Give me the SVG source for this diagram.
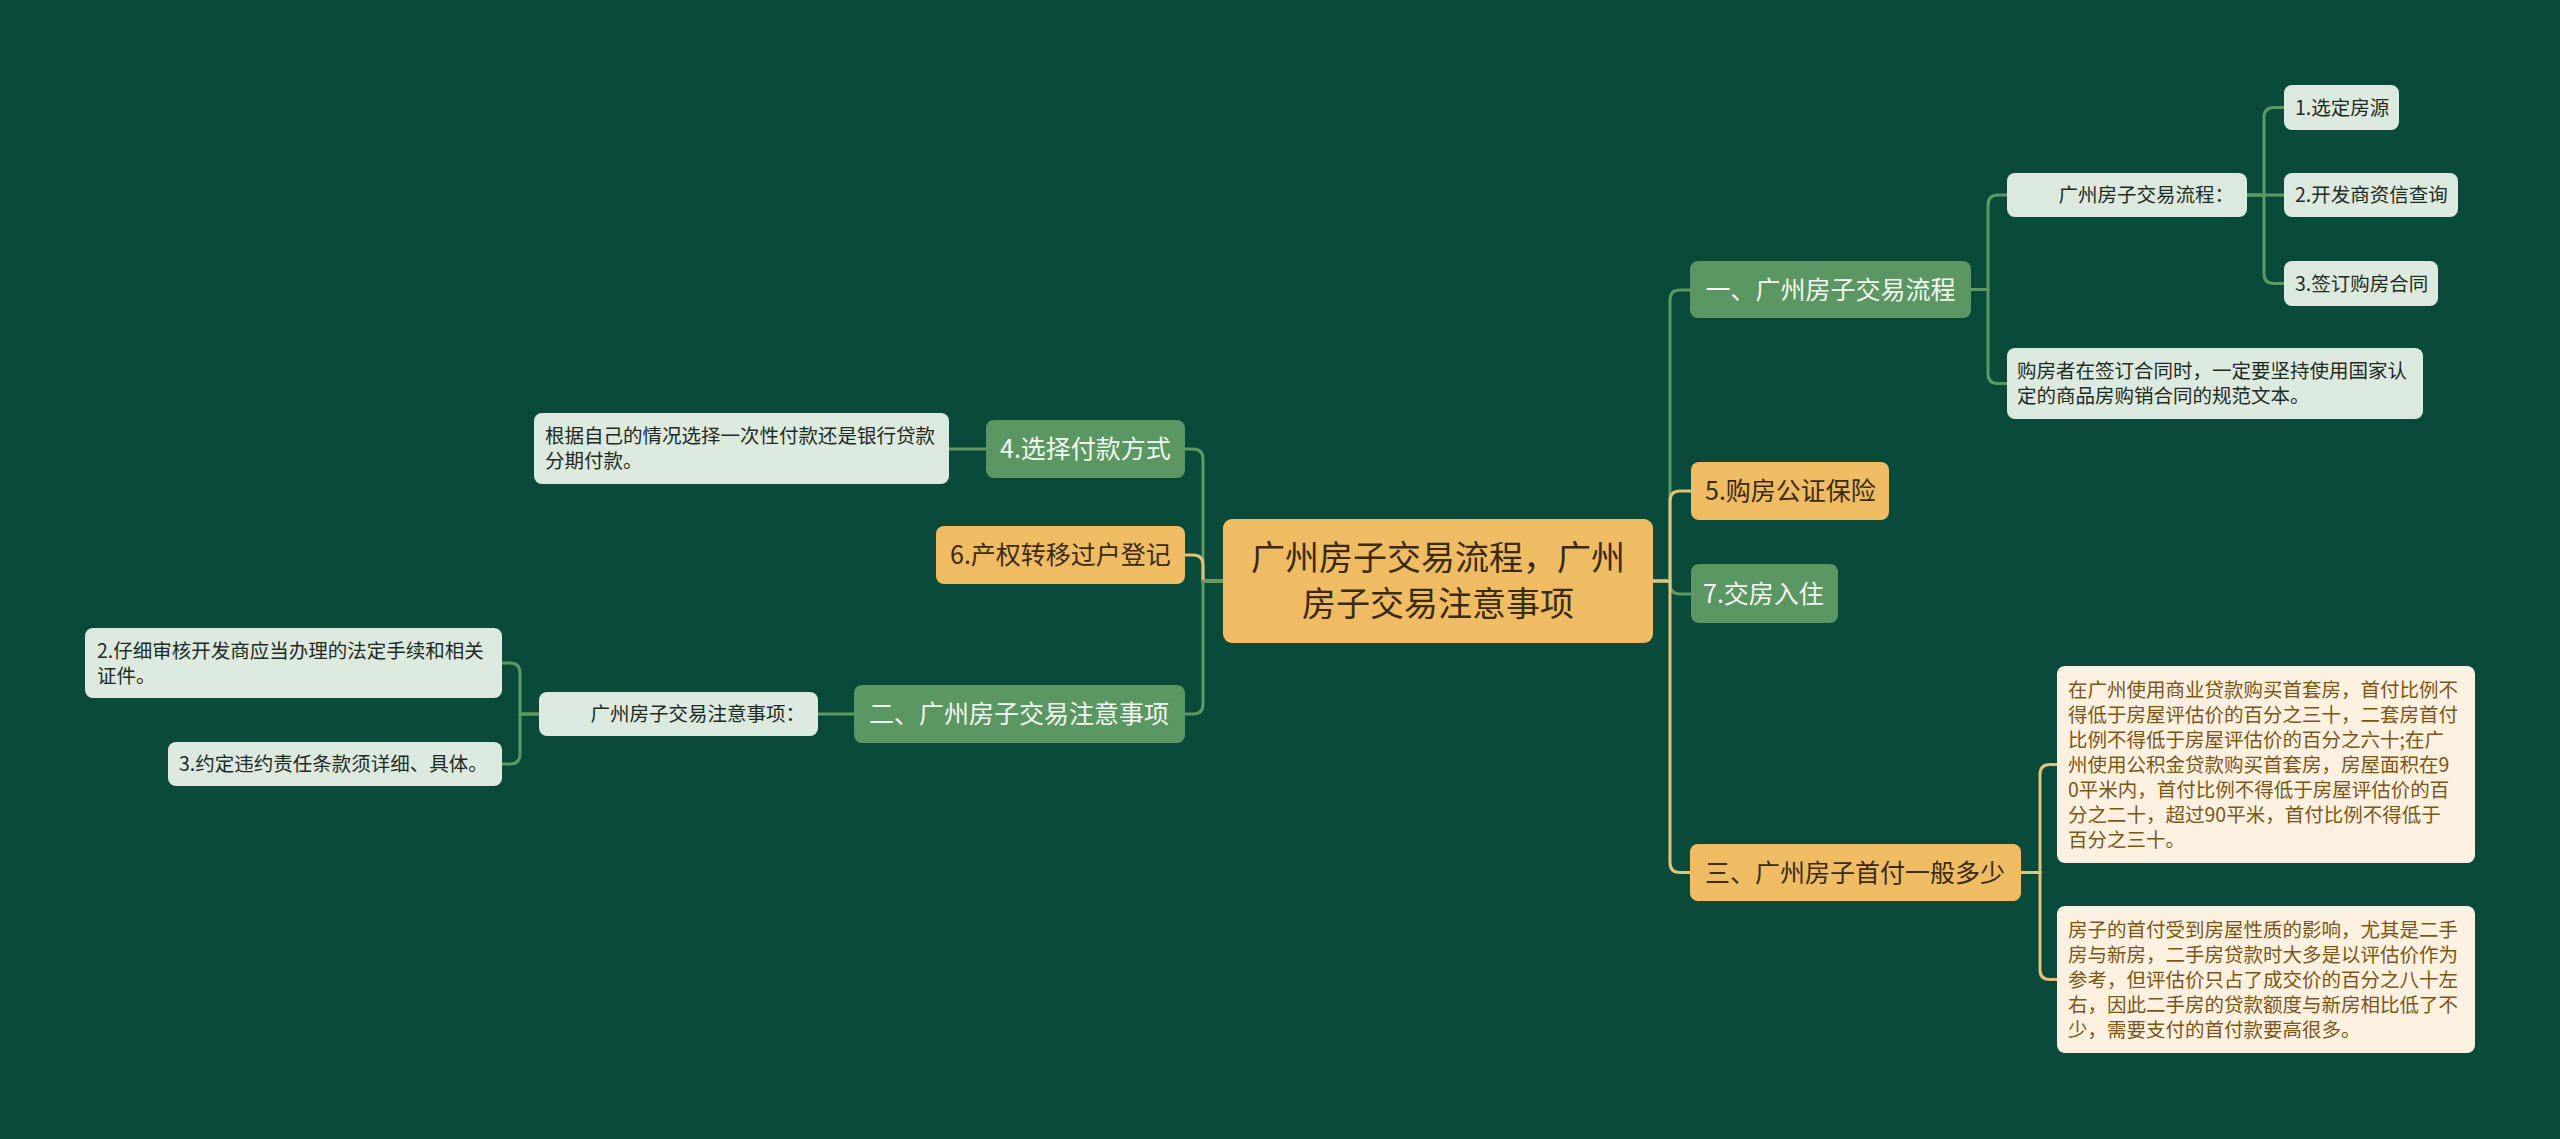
<svg xmlns="http://www.w3.org/2000/svg" width="2560" height="1139" viewBox="0 0 2560 1139">
<style>
text{font-family:"Noto Sans CJK SC","Noto Sans",sans-serif}
.g rect{fill:#5b9762}
.g text{fill:#f4f8f2;font-size:25px}
.y rect{fill:#efbc64}
.y text{fill:#3a2a12;font-size:25px}
.l rect{fill:#dce9de}
.l text{fill:#1e2b23;font-size:19.5px}
.c rect{fill:#fcf1e1}
.c text{fill:#7b5615;font-size:19.5px}
.lg{fill:none;stroke:#5d9a63;stroke-width:3}
.ly{fill:none;stroke:#e3c27b;stroke-width:3}
</style>
<rect x="0" y="0" width="2560" height="1139" fill="#094a3b"/>
<g id="connectors">
<path class="lg" d="M1653,581 H1670 V300 Q1670,290 1680,290 H1690"/>
<path class="ly" d="M1653,581 H1670 V501 Q1670,491 1680,491 H1691"/>
<path class="lg" d="M1653,581 H1670 V584 Q1670,594 1680,594 H1691"/>
<path class="ly" d="M1653,581 H1670 V862.5 Q1670,872.5 1680,872.5 H1690"/>
<path class="lg" d="M1971,289.5 H1988 V205 Q1988,195 1998,195 H2007"/>
<path class="lg" d="M1971,289.5 H1988 V373.5 Q1988,383.5 1998,383.5 H2007"/>
<path class="lg" d="M2247,195 H2264 V117.5 Q2264,107.5 2274,107.5 H2284"/>
<path class="lg" d="M2247,195 H2284"/>
<path class="lg" d="M2247,195 H2264 V273.5 Q2264,283.5 2274,283.5 H2284"/>
<path class="ly" d="M2021,872.5 H2040 V774.5 Q2040,764.5 2050,764.5 H2057"/>
<path class="ly" d="M2021,872.5 H2040 V969.5 Q2040,979.5 2050,979.5 H2057"/>
<path class="lg" d="M1223,581 H1203 V459 Q1203,449 1193,449 H1185"/>
<path class="ly" d="M1223,581 H1203 V565 Q1203,555 1193,555 H1185"/>
<path class="lg" d="M1223,581 H1203 V704 Q1203,714 1193,714 H1185"/>
<path class="lg" d="M986,449 H949"/>
<path class="lg" d="M854,714 H818"/>
<path class="lg" d="M539,714 H520 V673 Q520,663 510,663 H502"/>
<path class="lg" d="M539,714 H520 V754 Q520,764 510,764 H502"/>
</g>
<g id="center">
<rect x="1223" y="519" width="430" height="124" rx="9" fill="#efbc64"/>
<text x="1438" y="570" font-size="34" fill="#3a2a12" text-anchor="middle">广州房子交易流程，广州</text>
<text x="1438" y="616" font-size="34" fill="#3a2a12" text-anchor="middle">房子交易注意事项</text>
</g>
<g id="n1" class="g">
<rect x="1690" y="261" width="281" height="57" rx="8"/>
<text x="1830.5" y="298.5" text-anchor="middle">一、广州房子交易流程</text>
</g>
<g id="n1a" class="l">
<rect x="2007" y="173" width="240" height="44" rx="8"/>
<text x="2234" y="202" text-anchor="end">广州房子交易流程：</text>
</g>
<g id="n1a1" class="l">
<rect x="2284" y="85" width="115" height="45" rx="8"/>
<text x="2295" y="114.5">1.选定房源</text>
</g>
<g id="n1a2" class="l">
<rect x="2284" y="173" width="174" height="44" rx="8"/>
<text x="2295" y="202">2.开发商资信查询</text>
</g>
<g id="n1a3" class="l">
<rect x="2284" y="261" width="154" height="45" rx="8"/>
<text x="2295" y="290.5">3.签订购房合同</text>
</g>
<g id="n1b" class="l">
<rect x="2007" y="348" width="416" height="71" rx="8"/>
<text x="2017" y="378">购房者在签订合同时，一定要坚持使用国家认</text>
<text x="2017" y="403">定的商品房购销合同的规范文本。</text>
</g>
<g id="n5" class="y">
<rect x="1691" y="462" width="198" height="58" rx="8"/>
<text x="1705" y="500">5.购房公证保险</text>
</g>
<g id="n7" class="g">
<rect x="1691" y="564" width="147" height="59" rx="8"/>
<text x="1703" y="602.5">7.交房入住</text>
</g>
<g id="n3" class="y">
<rect x="1690" y="844" width="331" height="57" rx="8"/>
<text x="1705" y="881.5">三、广州房子首付一般多少</text>
</g>
<g id="n3a" class="c">
<rect x="2057" y="666" width="418" height="197" rx="8"/>
<text x="2068" y="697">在广州使用商业贷款购买首套房，首付比例不</text>
<text x="2068" y="722">得低于房屋评估价的百分之三十，二套房首付</text>
<text x="2068" y="747">比例不得低于房屋评估价的百分之六十;在广</text>
<text x="2068" y="772">州使用公积金贷款购买首套房，房屋面积在9</text>
<text x="2068" y="797">0平米内，首付比例不得低于房屋评估价的百</text>
<text x="2068" y="822">分之二十，超过90平米，首付比例不得低于</text>
<text x="2068" y="847">百分之三十。</text>
</g>
<g id="n3b" class="c">
<rect x="2057" y="906" width="418" height="147" rx="8"/>
<text x="2068" y="937">房子的首付受到房屋性质的影响，尤其是二手</text>
<text x="2068" y="962">房与新房，二手房贷款时大多是以评估价作为</text>
<text x="2068" y="987">参考，但评估价只占了成交价的百分之八十左</text>
<text x="2068" y="1012">右，因此二手房的贷款额度与新房相比低了不</text>
<text x="2068" y="1037">少，需要支付的首付款要高很多。</text>
</g>
<g id="n4" class="g">
<rect x="986" y="420" width="199" height="58" rx="8"/>
<text x="1000" y="458">4.选择付款方式</text>
</g>
<g id="n4a" class="l">
<rect x="534" y="413" width="415" height="71" rx="8"/>
<text x="545" y="443">根据自己的情况选择一次性付款还是银行贷款</text>
<text x="545" y="468">分期付款。</text>
</g>
<g id="n6" class="y">
<rect x="936" y="526" width="249" height="58" rx="8"/>
<text x="950" y="564">6.产权转移过户登记</text>
</g>
<g id="n2" class="g">
<rect x="854" y="685" width="331" height="58" rx="8"/>
<text x="869" y="723">二、广州房子交易注意事项</text>
</g>
<g id="n2a" class="l">
<rect x="539" y="692" width="279" height="44" rx="8"/>
<text x="805" y="721" text-anchor="end">广州房子交易注意事项：</text>
</g>
<g id="n2a1" class="l">
<rect x="85" y="628" width="417" height="70" rx="8"/>
<text x="97" y="658">2.仔细审核开发商应当办理的法定手续和相关</text>
<text x="97" y="683">证件。</text>
</g>
<g id="n2a2" class="l">
<rect x="168" y="742" width="334" height="44" rx="8"/>
<text x="179" y="771">3.约定违约责任条款须详细、具体。</text>
</g>
</svg>
